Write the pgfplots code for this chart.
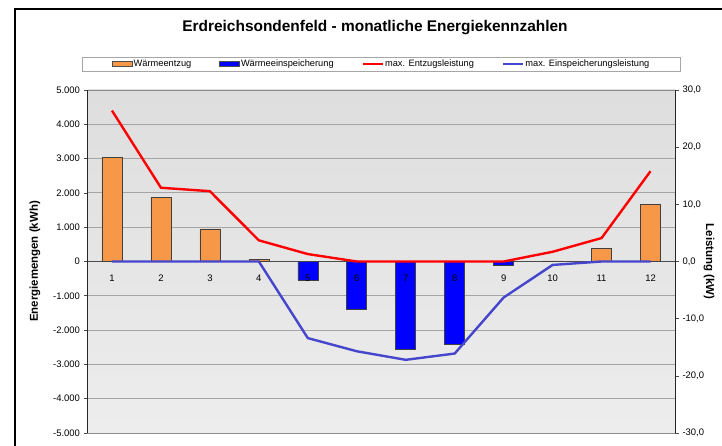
\documentclass[border=0pt]{standalone}
\usepackage{fontspec}
\setmainfont{Liberation Sans}
\usepackage{pgfplots}
\pgfplotsset{compat=1.18}
\definecolor{orangebar}{RGB}{247,152,72}
\definecolor{bluebar}{RGB}{0,0,255}
\definecolor{redline}{RGB}{255,0,0}
\definecolor{blueline}{RGB}{70,70,205}
\definecolor{gridgray}{RGB}{165,165,165}
\pgfplotsset{linelegend/.style={legend image code/.code={\draw[##1] (0bp,0bp) -- (20bp,0bp);}}}
\begin{document}
\begin{tikzpicture}
\path[use as bounding box, fill=white] (0bp,0bp) rectangle (722bp,446bp);
\draw[line width=1.2bp] (15bp,-3bp) -- (15bp,437bp) -- (725bp,437bp);
\node[font=\fontsize{15.5}{18}\selectfont\bfseries] at (375bp,418bp) {Erdreichsondenfeld - monatliche Energiekennzahlen};

% primary axis: energy (bars)
\begin{axis}[
  at={(87.5bp,13bp)}, anchor=south west, scale only axis,
  width=587.5bp, height=343bp,
  xmin=0.5, xmax=12.5, ymin=-5000, ymax=5000,
  axis background/.style={top color=black!13, bottom color=black!7},
  axis line style={draw=black!45, line width=0.6bp},
  xtick=\empty,
  ytick={-5000,-4000,...,5000},
  yticklabels={-5.000,-4.000,-3.000,-2.000,-1.000,0,1.000,2.000,3.000,4.000,5.000},
  ytick pos=left, tick align=outside, major tick length=4bp,
  ytick style={draw=black!70, line width=0.6bp},
  yticklabel style={font=\fontsize{9.5}{11}\selectfont},
  ymajorgrids, grid style={draw=gridgray, line width=0.8bp},
  ylabel={Energiemengen (kWh)},
  ylabel style={font=\fontsize{11.5}{13}\selectfont\bfseries, at={(axis description cs:-0.0894,0.5)}, anchor=center},
  after end axis/.code={\draw[black!85, line width=0.9bp] (rel axis cs:0,0) -- (rel axis cs:0,1);},
]
\addplot[black!70, line width=0.9bp] coordinates {(0.5,0) (12.5,0)};
\addplot[ybar, bar width=20bp, bar shift=0pt, fill=orangebar, draw=black!75, line width=0.6bp]
  coordinates {(1,3030) (2,1880) (3,950) (4,60) (10,15) (11,380) (12,1660)};
\addplot[ybar, bar width=20bp, bar shift=0pt, fill=bluebar, draw=black!75, line width=0.6bp]
  coordinates {(5,-540) (6,-1400) (7,-2570) (8,-2400) (9,-120)};
\end{axis}

% secondary axis: power (lines) and category labels on top of the bars
\begin{axis}[
  at={(87.5bp,13bp)}, anchor=south west, scale only axis,
  width=587.5bp, height=343bp,
  xmin=0.5, xmax=12.5, ymin=-30, ymax=30,
  axis x line*=bottom, x axis line style={draw=none},
  xtick={1,2,3,4,5,6,7,8,9,10,11,12},
  xticklabels={1,2,3,4,5,6,7,8,9,10,11,12},
  xtick style={draw=none},
  xticklabel style={yshift=166bp, font=\fontsize{9.5}{11}\selectfont},
  axis y line*=right,
  y axis line style={draw=black!85, line width=0.9bp},
  ytick={-30,-20,...,30},
  yticklabels={{-30,0},{-20,0},{-10,0},{0,0},{10,0},{20,0},{30,0}},
  tick align=outside, major tick length=4bp,
  ytick style={draw=black!70, line width=0.6bp},
  yticklabel style={font=\fontsize{9.5}{11}\selectfont},
  ylabel={Leistung (kW)},
  ylabel style={font=\fontsize{11.5}{13}\selectfont\bfseries, at={(axis description cs:1.058,0.5)}, anchor=center, rotate=180},
  legend columns=4,
  legend style={at={(0.5,1.054)}, anchor=south, draw=black!35, fill=white,
    font=\fontsize{9.3}{10}\selectfont, inner xsep=30bp, inner ysep=1.5bp,
    nodes={inner xsep=1bp, inner ysep=1.5bp},
    /tikz/every even column/.append style={column sep=27bp}},
  legend cell align=left,
]
\addlegendimage{legend image code/.code={\draw[fill=orangebar, draw=black!70, line width=0.6bp] (0bp,-2.5bp) rectangle (20bp,2.5bp);}}
\addlegendentry{Wärmeentzug}
\addlegendimage{legend image code/.code={\draw[fill=bluebar, draw=black!70, line width=0.6bp] (0bp,-2.5bp) rectangle (20bp,2.5bp);}}
\addlegendentry{Wärmeeinspeicherung}
\addplot[redline, line width=2.4bp, linelegend]
  coordinates {(1,26.4) (2,12.9) (3,12.3) (4,3.7) (5,1.3) (6,0) (7,0) (8,0) (9,0) (10,1.7) (11,4.1) (12,15.8)};
\addlegendentry{max. Entzugsleistung}
\addplot[blueline, line width=2.4bp, linelegend]
  coordinates {(1,0) (2,0) (3,0) (4,0) (5,-13.4) (6,-15.7) (7,-17.2) (8,-16.1) (9,-6.3) (10,-0.6) (11,0) (12,0)};
\addlegendentry{max. Einspeicherungsleistung}
\end{axis}
\end{tikzpicture}
\end{document}
